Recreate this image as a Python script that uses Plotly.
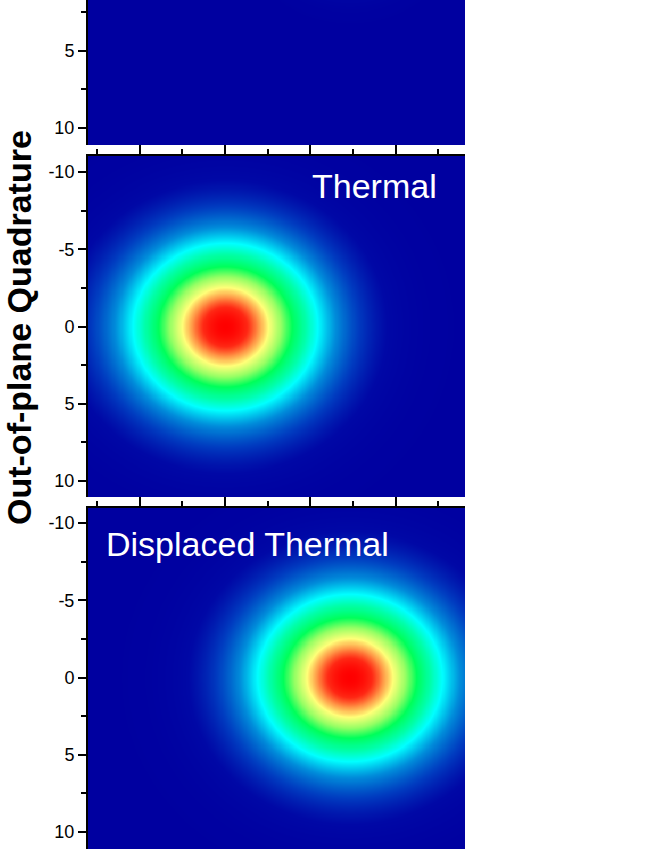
import numpy as np
import plotly.graph_objects as go

# ---- data ----
panel_names = ["Coherent", "Thermal", "Displaced Thermal"]
center_x = [7.3, 0.0, 7.3]       # in-plane quadrature of the state centre
center_y = [-3.5, 0.0, 0.0]      # out-of-plane quadrature of the state centre
width = [2.0, 4.0, 4.0]          # Gaussian width (sigma)
peak = [1.0, 1.0, 1.0]

y_tick_vals = [-10, -5, 0, 5, 10]
y_tick_text = ["-10", "-5", "0", "5", "10"]
labels = ["", "Thermal", "Displaced Thermal"]

W, H = 664, 860

xg = np.linspace(-9, 15, 361)
yg = np.linspace(-12, 12, 361)
XX, YY = np.meshgrid(xg, yg)

cscale = [
    [0.0, "rgb(0,0,160)"],
    [0.06, "rgb(0,8,166)"],
    [0.15, "rgb(0,60,192)"],
    [0.27, "rgb(0,140,218)"],
    [0.40, "rgb(0,255,255)"],
    [0.50, "rgb(0,255,170)"],
    [0.62, "rgb(0,255,90)"],
    [0.72, "rgb(150,255,100)"],
    [0.82, "rgb(255,255,120)"],
    [0.89, "rgb(255,150,70)"],
    [0.95, "rgb(255,40,20)"],
    [1.0, "rgb(255,0,0)"],
]

# pixel geometry of the three panels (top, bottom in px from top)
px_x = (88, 465)
px_y = [(0, 145), (156, 497), (508, 849)]
y_ranges = [[11.1, 1.72], [11.04, -11.04], [11.1, -10.97]]
x_range = [-8.03, 14.06]

fig = go.Figure()
for i in range(3):
    z = peak[i] * np.exp(-((XX - center_x[i]) ** 2 + (YY - center_y[i]) ** 2) / (2 * width[i] ** 2))
    fig.add_trace(go.Heatmap(
        x=xg, y=yg, z=z, colorscale=cscale, zmin=0, zmax=1,
        showscale=False, zsmooth="best", hoverinfo="skip",
        xaxis="x" if i == 0 else f"x{i+1}",
        yaxis="y" if i == 0 else f"y{i+1}",
    ))

tickfont = dict(family="Liberation Sans, Arial, sans-serif", size=18, color="black")
layout = dict(
    width=W, height=H, margin=dict(l=0, r=0, t=0, b=0),
    paper_bgcolor="white", plot_bgcolor="rgb(0,0,160)", showlegend=False,
)
for i in range(3):
    xs = "" if i == 0 else str(i + 1)
    t, b = px_y[i]
    ydom = [max(0.0, 1 - b / H), min(1.0, 1 - t / H)]
    xdom = [px_x[0] / W, px_x[1] / W]
    xa = dict(
        domain=xdom, range=x_range, anchor="y" + xs, side="top",
        showgrid=False, zeroline=False, showticklabels=False,
        showline=(i > 0), linecolor="black", linewidth=2,
        ticks="outside" if i > 0 else "", ticklen=9, tickwidth=1.5, tickcolor="black",
        tick0=0, dtick=5,
        minor=dict(ticks="outside" if i > 0 else "", ticklen=5, tickwidth=1.5,
                   tickcolor="black", dtick=2.5, tick0=0, showgrid=False),
    )
    ya = dict(
        domain=ydom, range=y_ranges[i], anchor="x" + xs,
        showgrid=False, zeroline=False,
        showline=True, linecolor="black", linewidth=2,
        ticks="outside", ticklen=8, tickwidth=1.5, tickcolor="black",
        tickvals=y_tick_vals, ticktext=y_tick_text, tickfont=tickfont,
        minor=dict(ticks="outside", ticklen=5, tickwidth=1.5, tickcolor="black",
                   tickvals=[-7.5, -2.5, 2.5, 7.5], showgrid=False),
    )
    layout["xaxis" + xs] = xa
    layout["yaxis" + xs] = ya

fig.update_layout(**layout)

ann_font = dict(family="Liberation Sans, Arial, sans-serif", size=34, color="white")
fig.add_annotation(text=labels[1], xref="paper", yref="paper",
                   x=439 / W, y=1 - 186 / H, xanchor="right", yanchor="middle",
                   showarrow=False, font=ann_font)
fig.add_annotation(text=labels[2], xref="paper", yref="paper",
                   x=104 / W, y=1 - 544 / H, xanchor="left", yanchor="middle",
                   showarrow=False, font=ann_font)
fig.add_annotation(text="<b>Out-of-plane Quadrature</b>", xref="paper", yref="paper",
                   x=19 / W, y=1 - 328 / H, xanchor="center", yanchor="middle",
                   textangle=-90, showarrow=False,
                   font=dict(family="Liberation Sans, Arial, sans-serif", size=34, color="black"))

fig.write_html("out.html", config={"displayModeBar": False},
               post_script="document.body.style.margin='0';document.body.style.padding='0';")
